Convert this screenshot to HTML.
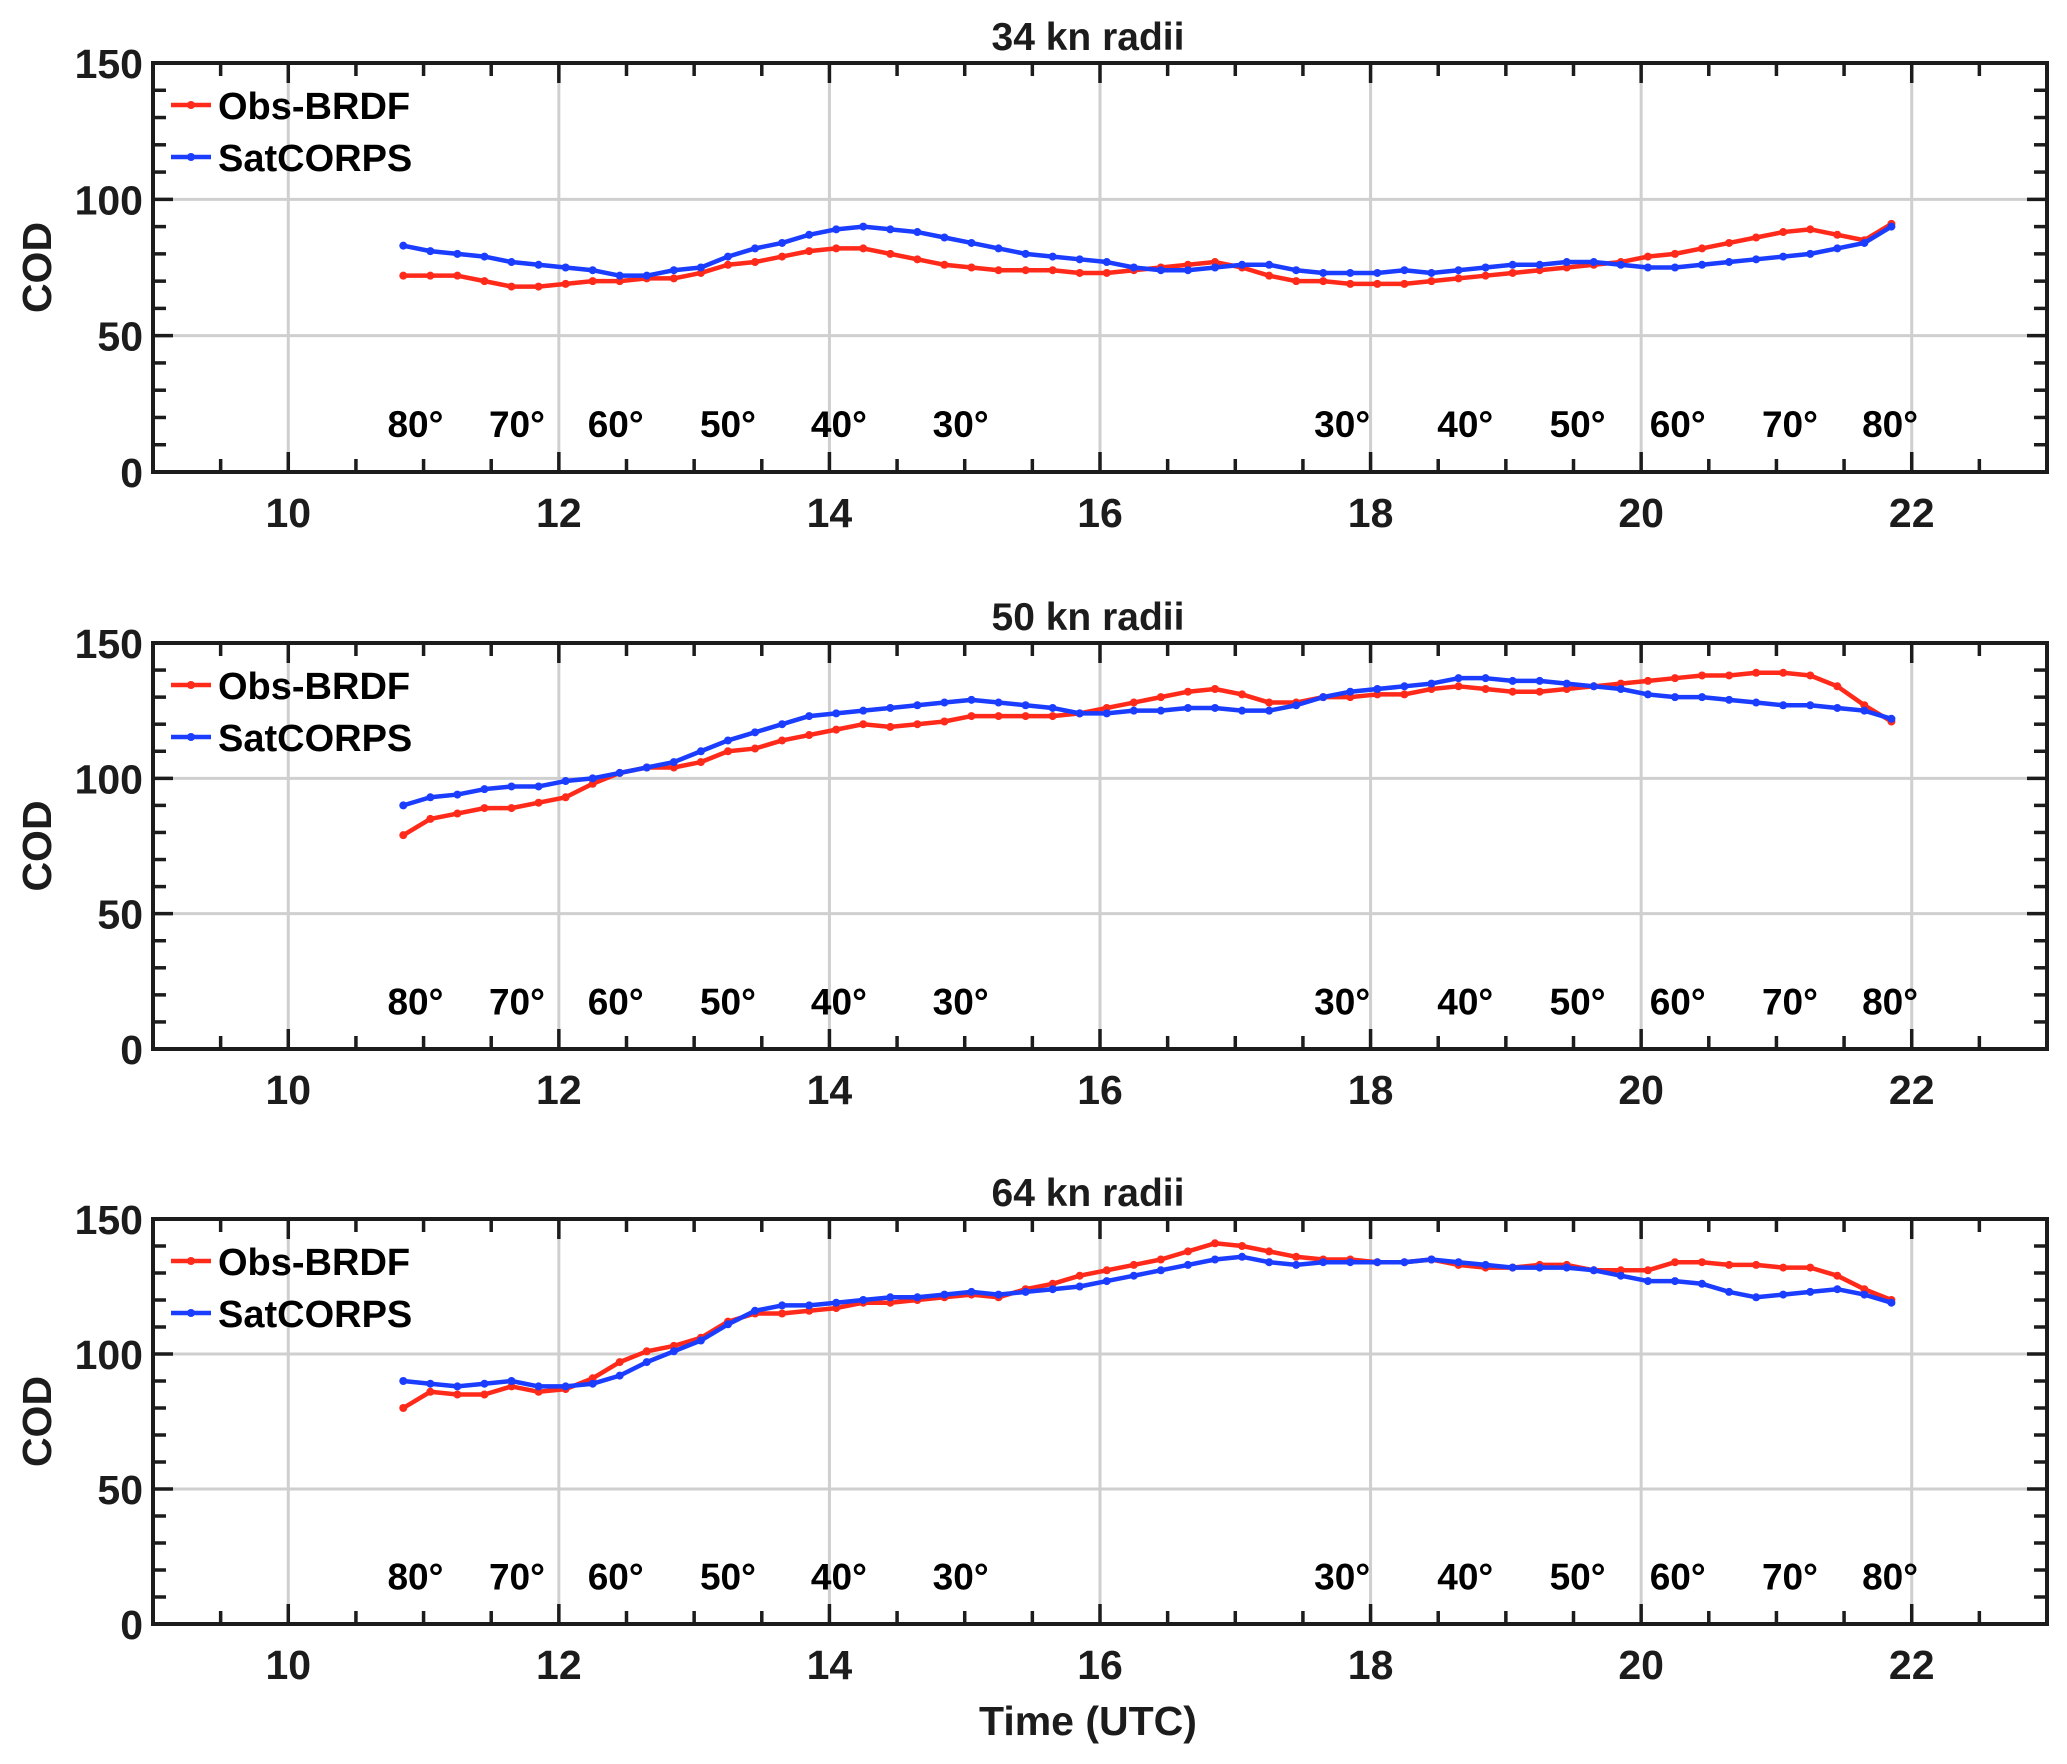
<!DOCTYPE html>
<html><head><meta charset="utf-8"><style>
html,body{margin:0;padding:0;background:#fff}
svg{display:block;font-family:"Liberation Sans",Arial,sans-serif;font-weight:bold}
</style></head><body>
<svg id="chart" width="2067" height="1764" viewBox="0 0 2067 1764" xmlns="http://www.w3.org/2000/svg"></svg>
<script>
const panelTitles = ["34 kn radii","50 kn radii","64 kn radii"];
const xTicks = [10,12,14,16,18,20,22];
const yTicks = [0,50,100,150];
const latLabels = ["80°","70°","60°","50°","40°","30°","30°","40°","50°","60°","70°","80°"];
const latTimes = [10.94,11.69,12.42,13.25,14.07,14.97,17.79,18.7,19.53,20.27,21.1,21.84];
const tStart = 10.85, tStep = 0.2;
const obs34 = [72,72,72,70,68,68,69,70,70,71,71,73,76,77,79,81,82,82,80,78,76,75,74,74,74,73,73,74,75,76,77,75,72,70,70,69,69,69,70,71,72,73,74,75,76,77,79,80,82,84,86,88,89,87,85,91];
const sat34 = [83,81,80,79,77,76,75,74,72,72,74,75,79,82,84,87,89,90,89,88,86,84,82,80,79,78,77,75,74,74,75,76,76,74,73,73,73,74,73,74,75,76,76,77,77,76,75,75,76,77,78,79,80,82,84,90];
const obs50 = [79,85,87,89,89,91,93,98,102,104,104,106,110,111,114,116,118,120,119,120,121,123,123,123,123,124,126,128,130,132,133,131,128,128,130,130,131,131,133,134,133,132,132,133,134,135,136,137,138,138,139,139,138,134,127,121];
const sat50 = [90,93,94,96,97,97,99,100,102,104,106,110,114,117,120,123,124,125,126,127,128,129,128,127,126,124,124,125,125,126,126,125,125,127,130,132,133,134,135,137,137,136,136,135,134,133,131,130,130,129,128,127,127,126,125,122];
const obs64 = [80,86,85,85,88,86,87,91,97,101,103,106,112,115,115,116,117,119,119,120,121,122,121,124,126,129,131,133,135,138,141,140,138,136,135,135,134,134,135,133,132,132,133,133,131,131,131,134,134,133,133,132,132,129,124,120];
const sat64 = [90,89,88,89,90,88,88,89,92,97,101,105,111,116,118,118,119,120,121,121,122,123,122,123,124,125,127,129,131,133,135,136,134,133,134,134,134,134,135,134,133,132,132,132,131,129,127,127,126,123,121,122,123,124,122,119];
const panelsObs = [obs34, obs50, obs64];
const panelsSat = [sat34, sat50, sat64];

const NS="http://www.w3.org/2000/svg";
const svg=document.getElementById('chart');
function mk(tag,attrs,parent){const e=document.createElementNS(NS,tag);for(const k in attrs)e.setAttribute(k,attrs[k]);(parent||svg).appendChild(e);return e;}
const L=153,R=2047,X0=9,X1=23;
const tops=[63,643,1219],bots=[472,1049,1624];
const xs=v=>L+(v-X0)/(X1-X0)*(R-L);
const ink="#1c1c1c";

for(let p=0;p<3;p++){
  const T=tops[p],B=bots[p];
  const ys=v=>B-(v/150)*(B-T);
  const g=mk('g',{});
  
  
  xTicks.forEach(v=>{const l=mk('line',{x1:xs(v),x2:xs(v),y1:T,y2:B,stroke:'#cfcfcf','stroke-width':3},g);
    });
  [50,100].forEach(v=>{const l=mk('line',{x1:L,x2:R,y1:ys(v),y2:ys(v),stroke:'#cfcfcf','stroke-width':3},g);
    });
  for(let v=9.5;v<23;v+=0.5){const major=Math.abs(v-Math.round(v))<1e-6&&Math.round(v)%2===0;const len=major?20:13;
    mk('line',{x1:xs(v),x2:xs(v),y1:B,y2:B-len,stroke:ink,'stroke-width':3.5},g);
    mk('line',{x1:xs(v),x2:xs(v),y1:T,y2:T+len,stroke:ink,'stroke-width':3.5},g);}
  for(let v=10;v<150;v+=10){const len=v%50===0?20:13;
    mk('line',{x1:L,x2:L+len,y1:ys(v),y2:ys(v),stroke:ink,'stroke-width':3.5},g);
    mk('line',{x1:R,x2:R-len,y1:ys(v),y2:ys(v),stroke:ink,'stroke-width':3.5},g);}
  const box=mk('rect',{x:L,y:T,width:R-L,height:B-T,fill:'none',stroke:ink,'stroke-width':4},g);
  
  xTicks.forEach(v=>{const t=mk('text',{x:xs(v),y:B+55,'text-anchor':'middle','font-size':41,fill:ink},g);t.textContent=v;
    });
  yTicks.forEach(v=>{const t=mk('text',{x:L-10,y:ys(v)+15,'text-anchor':'end','font-size':41,fill:ink},g);t.textContent=v;
    });
  const yl=mk('text',{x:0,y:0,transform:`translate(51,${(T+B)/2}) rotate(-90)`,'text-anchor':'middle','font-size':41,fill:ink},g);
  yl.textContent='COD';
  const tt=mk('text',{x:(L+R)/2-12,y:T-13,'text-anchor':'middle','font-size':39,fill:ink},g);
  tt.textContent=panelTitles[p];
  latLabels.forEach((s,i)=>{const t=mk('text',{x:xs(latTimes[i]),y:ys(18)+14,'text-anchor':'middle','font-size':37,fill:'#000'},g);t.textContent=s;
    });
  [[panelsObs[p],'#ff2a1a','obs-brdf-series'],[panelsSat[p],'#1a3dff','satcorps-series']].forEach(([arr,col,name])=>{
    const sg=mk('g',{},g);
    const pts=arr.map((v,i)=>[xs(tStart+i*tStep),ys(v)]);
    mk('polyline',{points:pts.map(q=>q.join(',')).join(' '),fill:'none',stroke:col,'stroke-width':4.5,'stroke-linejoin':'round'},sg);
    pts.forEach(q=>{const c=mk('circle',{cx:q[0],cy:q[1],r:4,fill:col},sg);});
  });
  const lg=mk('g',{},g);
  [['Obs-BRDF','#ff2a1a',42],['SatCORPS','#1a3dff',94]].forEach(([lab,col,dy])=>{
    const e=mk('g',{},lg);
    mk('line',{x1:171,x2:211,y1:T+dy,y2:T+dy,stroke:col,'stroke-width':4.5},e);
    mk('circle',{cx:191,cy:T+dy,r:4,fill:col},e);
    const t=mk('text',{x:218,y:T+dy+14,'font-size':38,fill:'#000'},e);t.textContent=lab;
  });
}
const xl=mk('text',{x:(L+R)/2-12,y:1735,'text-anchor':'middle','font-size':41,fill:ink});
xl.textContent='Time (UTC)';


</script>
</body></html>
